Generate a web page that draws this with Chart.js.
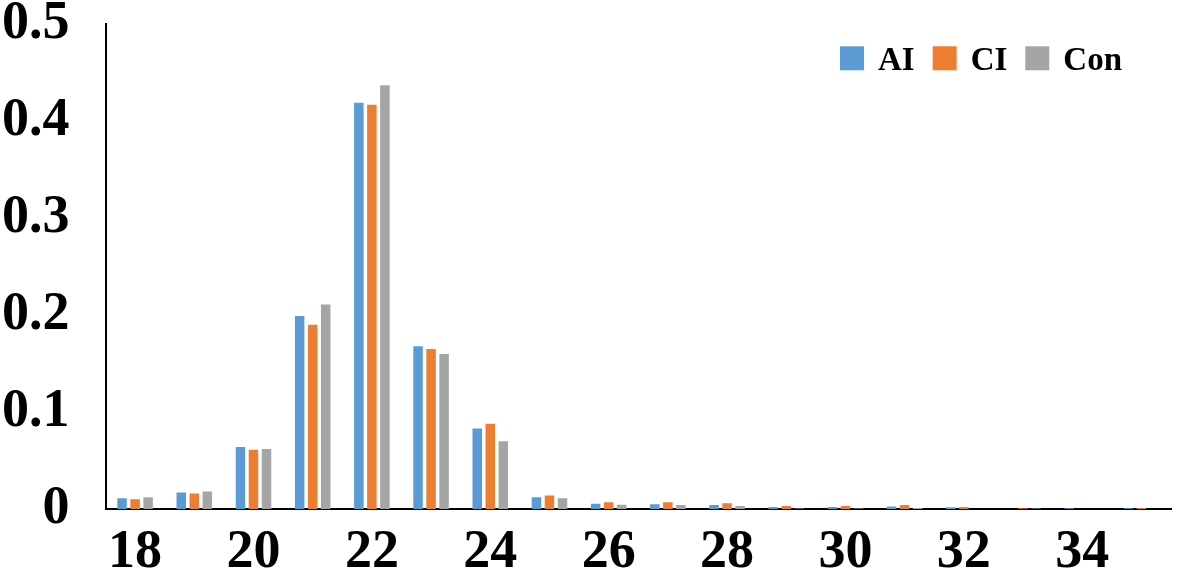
<!DOCTYPE html>
<html>
<head>
<meta charset="utf-8">
<script src="https://cdn.jsdelivr.net/npm/chart.js@4/dist/chart.umd.min.js"></script>
<style>
  html, body { margin: 0; padding: 0; background: #fff; }
  #wrap { width: 1181px; height: 574px; }
</style>
</head>
<body>
<div id="wrap"><canvas id="distChart"></canvas></div>
<script>
// ========== data ==========
const categories = [18, 19, 20, 21, 22, 23, 24, 25, 26, 27, 28, 29, 30, 31, 32, 33, 34, 35];
const aiValues  = [0.011, 0.017, 0.064, 0.199, 0.419, 0.168, 0.083, 0.012, 0.0055, 0.005, 0.004, 0.002, 0.002, 0.0025, 0.0018, 0, 0.0008, 0.0008];
const ciValues  = [0.010, 0.016, 0.061, 0.190, 0.417, 0.165, 0.088, 0.014, 0.007, 0.007, 0.006, 0.003, 0.003, 0.004, 0.002, 0.0008, 0, 0.001];
const conValues = [0.012, 0.018, 0.062, 0.211, 0.437, 0.160, 0.070, 0.011, 0.0045, 0.004, 0.003, 0.0005, 0.0005, 0.001, 0, 0.0005, 0, 0];
const yTicks = [0, 0.1, 0.2, 0.3, 0.4, 0.5];

const serif = '"Liberation Serif", "Times New Roman", serif';

// legend drawn inside the plot, top right, like the Excel original
const insideLegend = {
    id: 'insideLegend',
    afterDraw(chart) {
        const c = chart.ctx;
        const area = chart.chartArea;
        const box = 24, gapText = 14, gapItem = 18;
        c.save();
        c.font = 'bold 33px ' + serif;
        c.textBaseline = 'middle';
        const items = chart.data.datasets.map(ds => ({
            text: ds.label, color: ds.backgroundColor, w: c.measureText(ds.label).width
        }));
        let total = 0;
        items.forEach((it, i) => { total += box + gapText + it.w + (i ? gapItem : 0); });
        let x = area.right - 49 - total;
        const cy = area.top + 35;
        items.forEach(it => {
            c.fillStyle = it.color;
            c.fillRect(x, cy - box / 2 - 1, box, box);
            x += box + gapText;
            c.fillStyle = '#000';
            c.fillText(it.text, x, cy + 2);
            x += it.w + gapItem;
        });
        c.restore();
    }
};

const ctx = document.getElementById('distChart');
new Chart(ctx, {
    type: 'bar',
    data: {
        labels: categories,
        datasets: [
            { label: 'AI',  data: aiValues,  backgroundColor: '#5B9BD5' },
            { label: 'CI',  data: ciValues,  backgroundColor: '#ED7D31' },
            { label: 'Con', data: conValues, backgroundColor: '#A5A5A5' }
        ]
    },
    plugins: [insideLegend],
    options: {
        responsive: true,
        maintainAspectRatio: false,
        animation: false,
        layout: { padding: { top: 0, right: 10, left: 2, bottom: -23 } },
        datasets: {
            bar: { categoryPercentage: 0.66, barPercentage: 0.73 }
        },
        plugins: {
            tooltip: { enabled: false },
            legend: { display: false }
        },
        scales: {
            x: {
                grid: { display: false, drawTicks: false },
                border: { display: true, color: '#000', width: 2 },
                ticks: {
                    autoSkip: false,
                    maxRotation: 0,
                    padding: 17,
                    color: '#000',
                    font: { family: serif, size: 54, weight: 'bold', lineHeight: 1 },
                    callback: function (value, index) {
                        return categories[index] % 2 === 0 ? String(categories[index]) : '';
                    }
                }
            },
            y: {
                min: 0,
                max: 0.5,
                afterBuildTicks: function (axis) {
                    axis.ticks = yTicks.map(v => ({ value: v }));
                },
                // hidden tick marks give the gap between labels and the axis line
                grid: { display: false, drawTicks: true, tickLength: 36 },
                border: { display: true, color: '#000', width: 2 },
                ticks: {
                    padding: 0,
                    color: '#000',
                    font: { family: serif, size: 54, weight: 'bold', lineHeight: 0.9 },
                    callback: function (value) {
                        return value === 0 ? '0' : value.toFixed(1);
                    }
                }
            }
        }
    }
});
</script>
</body>
</html>
